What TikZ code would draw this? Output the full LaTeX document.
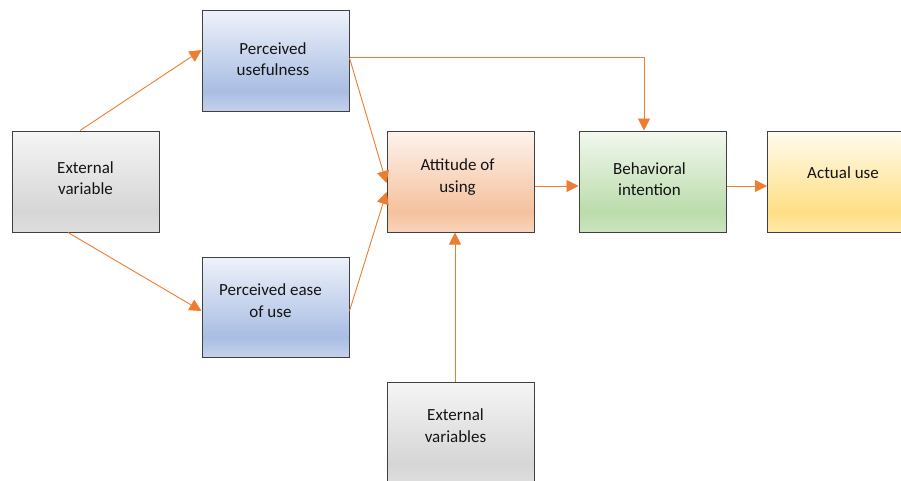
\documentclass[tikz,border=0pt]{standalone}
\usepackage{fontspec}
\setmainfont{Carlito}
\usetikzlibrary{arrows.meta}
\definecolor{arr}{HTML}{ED7D31}
\definecolor{edge}{HTML}{404040}
\definecolor{txtc}{HTML}{141414}
\definecolor{grT}{HTML}{F5F5F5}\definecolor{grM}{HTML}{D6D6D6}\definecolor{grB}{HTML}{DEDEDE}
\definecolor{blT}{HTML}{EEF2FA}\definecolor{blM}{HTML}{A9BDE3}\definecolor{blB}{HTML}{C4D2EC}
\definecolor{orT}{HTML}{FDF3ED}\definecolor{orM}{HTML}{F5C19D}\definecolor{orB}{HTML}{F8D4BB}
\definecolor{gnT}{HTML}{F2F8EF}\definecolor{gnM}{HTML}{BBDCAB}\definecolor{gnB}{HTML}{CCE4C0}
\definecolor{ylT}{HTML}{FFFBEE}\definecolor{ylM}{HTML}{FFDF85}\definecolor{ylB}{HTML}{FFE9AA}
\pgfdeclareverticalshading{grayg}{100bp}{color(0bp)=(grB); color(25bp)=(grB); color(35bp)=(grM); color(75bp)=(grT); color(100bp)=(grT)}
\pgfdeclareverticalshading{blueg}{100bp}{color(0bp)=(blB); color(25bp)=(blB); color(35bp)=(blM); color(75bp)=(blT); color(100bp)=(blT)}
\pgfdeclareverticalshading{orangeg}{100bp}{color(0bp)=(orB); color(25bp)=(orB); color(35bp)=(orM); color(75bp)=(orT); color(100bp)=(orT)}
\pgfdeclareverticalshading{greeng}{100bp}{color(0bp)=(gnB); color(25bp)=(gnB); color(35bp)=(gnM); color(75bp)=(gnT); color(100bp)=(gnT)}
\pgfdeclareverticalshading{yellowg}{100bp}{color(0bp)=(ylB); color(25bp)=(ylB); color(35bp)=(ylM); color(75bp)=(ylT); color(100bp)=(ylT)}
\tikzset{
  box/.style={draw=edge, line width=1pt, rectangle, minimum width=147pt, minimum height=101pt, inner sep=0pt},
  txt/.style={align=center, text=txtc, font=\fontsize{17}{21.5}\selectfont, inner sep=0pt},
  conn/.style={draw=arr, line width=0.9pt, -{Triangle[length=12pt,width=12pt]}}
}
\begin{document}
\begin{tikzpicture}[x=1pt,y=-1pt]
\useasboundingbox (0,0) rectangle (901,480);
\clip (0,0) rectangle (901,480);
\fill[white] (0,0) rectangle (901,480);
\node[box, shading=grayg] (ev) at (85.5,181.5) {};
\node[box, shading=blueg] (pu) at (275.5,61) {};
\node[box, shading=blueg, minimum height=100pt] (peu) at (275.5,307) {};
\node[box, shading=orangeg] (att) at (460.5,181.5) {};
\node[box, shading=greeng] (bi) at (652.5,181.5) {};
\node[box, shading=yellowg] (au) at (841,181.5) {};
\node[box, shading=grayg] (evs) at (460.5,432.5) {};
\node[txt] (evt) at ([yshift=3.5]ev.center) {External\\variable};
\node[txt] (put) at ([xshift=-2.5,yshift=2]pu.center) {Perceived\\usefulness};
\node[txt] (peut) at ([xshift=-5,yshift=6.5]peu.center) {Perceived ease\\of use};
\node[txt] (attt) at ([xshift=-3,yshift=4.5]att.center) {Attitude of\\using};
\node[txt] (bit) at ([xshift=-3,yshift=2.5]bi.center) {Behavioral\\intention};
\node[txt] (aut) at ([xshift=2,yshift=8.5]au.center) {Actual use};
\node[txt] (evst) at ([xshift=-5,yshift=7]evs.center) {External\\variables};
\draw[conn] ([xshift=-5.5]ev.north) -- ([yshift=11]pu.west);
\draw[conn] ([xshift=-17.5]ev.south) -- ([yshift=-4]peu.west);
\draw[conn] ([yshift=3]pu.east) -- ([yshift=-1.5]att.west);
\draw[conn] ([yshift=-4]peu.west -| peu.east) -- ([yshift=-10.5]att.west);
\draw[conn] ([yshift=4]pu.east) -| ([xshift=-8.5]bi.north);
\draw[conn] ([yshift=-4.5]att.east) -- ([yshift=-4.5]bi.west);
\draw[conn] ([yshift=-4.5]bi.east) -- ([yshift=-4.5]au.west);
\draw[conn] ([xshift=-5.5]evs.north) -- ([xshift=-5.5]att.south);
\end{tikzpicture}
\end{document}
